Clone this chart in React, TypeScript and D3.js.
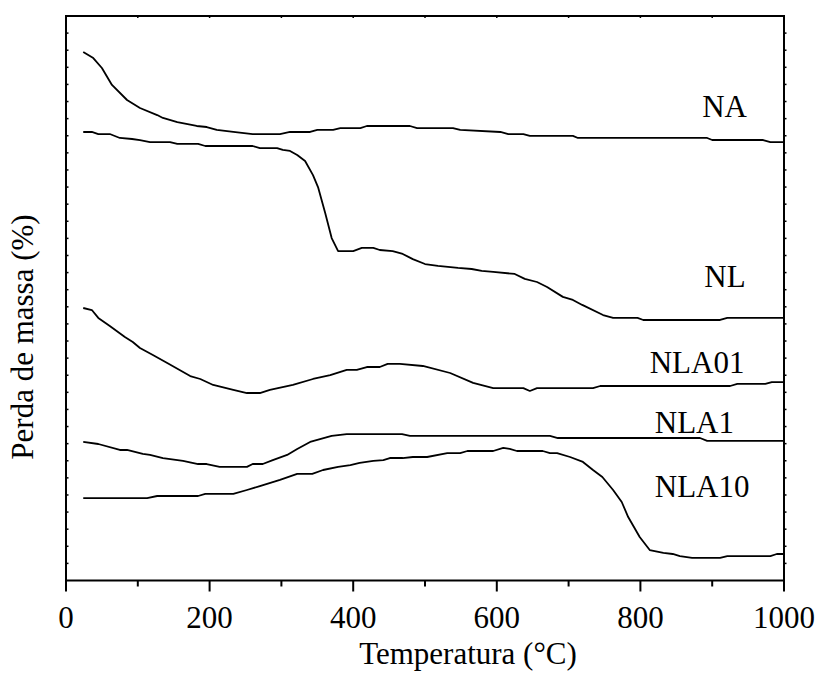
import React from "react";
import * as d3 from "d3";

// Temperature (°C), relative mass-loss units (curves offset vertically)
const seriesNames = ["NA", "NL", "NLA01", "NLA1", "NLA10"];

const NA: [number, number][] = [[24,30.9],[38,30.54],[50,29.96],[64,28.97],[85,28.09],[103,27.62],[127,27.21],[135,27.04],[155,26.8],[182,26.57],[196,26.51],[210,26.34],[233,26.22],[260,26.1],[298,26.1],[312,26.22],[340,26.22],[350,26.34],[372,26.34],[382,26.45],[410,26.45],[419,26.57],[479,26.57],[489,26.45],[539,26.45],[549,26.34],[605,26.22],[616,26.1],[637,26.1],[646,25.99],[706,25.99],[713,25.87],[893,25.87],[900,25.75],[971,25.75],[981,25.63],[1000,25.63]];

const NL: [number, number][] = [[24,26.22],[36,26.22],[45,26.1],[61,26.1],[75,25.87],[92,25.81],[103,25.75],[117,25.63],[145,25.63],[155,25.52],[184,25.52],[194,25.4],[260,25.4],[270,25.28],[294,25.28],[302,25.17],[312,25.11],[322,24.87],[333,24.52],[344,23.7],[351,23.0],[361,21.48],[370,20.02],[379,19.26],[400,19.26],[412,19.44],[428,19.44],[437,19.32],[455,19.26],[469,19.09],[483,18.79],[500,18.5],[518,18.39],[546,18.27],[565,18.21],[579,18.1],[595,18.04],[625,17.92],[639,17.63],[656,17.45],[670,17.16],[692,16.58],[706,16.4],[719,16.11],[748,15.52],[762,15.35],[796,15.35],[804,15.23],[911,15.23],[921,15.35],[1000,15.35]];

const NLA01: [number, number][] = [[24,15.93],[36,15.81],[45,15.35],[61,14.88],[82,14.23],[93,13.94],[103,13.59],[121,13.18],[141,12.71],[173,11.95],[187,11.78],[205,11.43],[233,11.14],[252,10.96],[270,10.96],[284,11.14],[316,11.43],[344,11.78],[368,12.01],[391,12.31],[405,12.31],[419,12.48],[437,12.48],[448,12.66],[465,12.66],[497,12.54],[535,12.13],[567,11.55],[595,11.25],[637,11.25],[646,11.08],[656,11.25],[734,11.25],[744,11.37],[925,11.37],[935,11.49],[974,11.49],[983,11.6],[1000,11.6]];

const NLA1: [number, number][] = [[24,8.1],[45,7.98],[75,7.63],[85,7.63],[107,7.4],[117,7.34],[135,7.16],[163,6.99],[184,6.81],[196,6.81],[214,6.64],[252,6.64],[260,6.81],[274,6.81],[288,7.04],[308,7.34],[322,7.69],[340,8.1],[370,8.45],[391,8.56],[468,8.56],[479,8.45],[674,8.45],[685,8.33],[883,8.33],[893,8.16],[1000,8.16]];

const NLA10: [number, number][] = [[24,4.82],[113,4.82],[127,4.94],[184,4.94],[194,5.06],[233,5.06],[252,5.29],[270,5.52],[298,5.88],[322,6.23],[343,6.23],[358,6.46],[379,6.64],[396,6.75],[409,6.87],[428,6.99],[442,7.04],[451,7.16],[469,7.16],[483,7.22],[503,7.22],[531,7.45],[549,7.45],[559,7.57],[595,7.57],[609,7.75],[618,7.69],[628,7.57],[664,7.57],[674,7.45],[684,7.45],[702,7.22],[720,6.93],[734,6.46],[747,6.05],[762,5.29],[774,4.59],[783,3.71],[799,2.54],[813,1.78],[832,1.61],[845,1.55],[855,1.43],[872,1.32],[911,1.32],[921,1.43],[981,1.43],[990,1.55],[1000,1.55]];

// label anchor positions in data units [temperature, value]
const labelPos: [number, number][] = [[886, 27.09], [889, 17.16], [813, 12.12], [820, 8.64], [820, 4.89]];

const xTickValues = [0, 200, 400, 600, 800, 1000];
const xDomain: [number, number] = [0, 1000];
const yDomain: [number, number] = [0, 33];

export default function App() {
  const W = 828, H = 673;
  const left = 66, right = 784, top = 16, bottom = 580.5;
  const x = d3.scaleLinear().domain(xDomain).range([left, right]);
  const y = d3.scaleLinear().domain(yDomain).range([bottom, top]);
  const line = d3.line<[number, number]>().x(d => x(d[0])).y(d => y(d[1])).curve(d3.curveLinear);
  const all = [NA, NL, NLA01, NLA1, NLA10];
  const minorX = d3.range(0, 1001, 100);
  const yTicks = d3.range(1, 33, 1);
  const textStyle: React.CSSProperties = { fontFamily: '"Liberation Serif", "Times New Roman", Times, serif', fontSize: "31px" };

  return (
    <svg width={W} height={H} style={{ position: "absolute", left: 0, top: 0, background: "#fff" }}>
      <rect x={0} y={0} width={W} height={H} fill="#fff" />
      {all.map((s, i) => (
        <path key={seriesNames[i]} d={line(s) || ""} fill="none" stroke="#000" strokeWidth={1.8} strokeLinejoin="round" />
      ))}
      <rect x={left} y={top} width={right - left} height={bottom - top} fill="none" stroke="#000" strokeWidth={2} />
      {minorX.map(t => {
        const major = t % 200 === 0;
        return <line key={"b" + t} x1={x(t)} x2={x(t)} y1={bottom} y2={bottom + (major ? 11 : 6)} stroke="#000" strokeWidth={2} />;
      })}
      {minorX.map(t => (
        <line key={"t" + t} x1={x(t)} x2={x(t)} y1={top} y2={top + 2} stroke="#000" strokeWidth={1.5} />
      ))}
      {yTicks.map(t => (
        <g key={"y" + t}>
          <line x1={left} x2={left + 2.5} y1={y(t)} y2={y(t)} stroke="#000" strokeWidth={1.5} />
          <line x1={right} x2={right + 2.5} y1={y(t)} y2={y(t)} stroke="#000" strokeWidth={1.5} />
        </g>
      ))}
      {xTickValues.map(t => (
        <text key={"l" + t} x={x(t)} y={628} style={textStyle} textAnchor="middle" fill="#000">{t}</text>
      ))}
      <text x={468} y={664} style={textStyle} textAnchor="middle" fill="#000">Temperatura (°C)</text>
      <text transform={`translate(33,337) rotate(-90)`} style={textStyle} textAnchor="middle" fill="#000">Perda de massa (%)</text>
      {seriesNames.map((n, i) => (
        <text key={"s" + n} x={x(labelPos[i][0])} y={y(labelPos[i][1])} style={textStyle} fill="#000">{n}</text>
      ))}
    </svg>
  );
}
